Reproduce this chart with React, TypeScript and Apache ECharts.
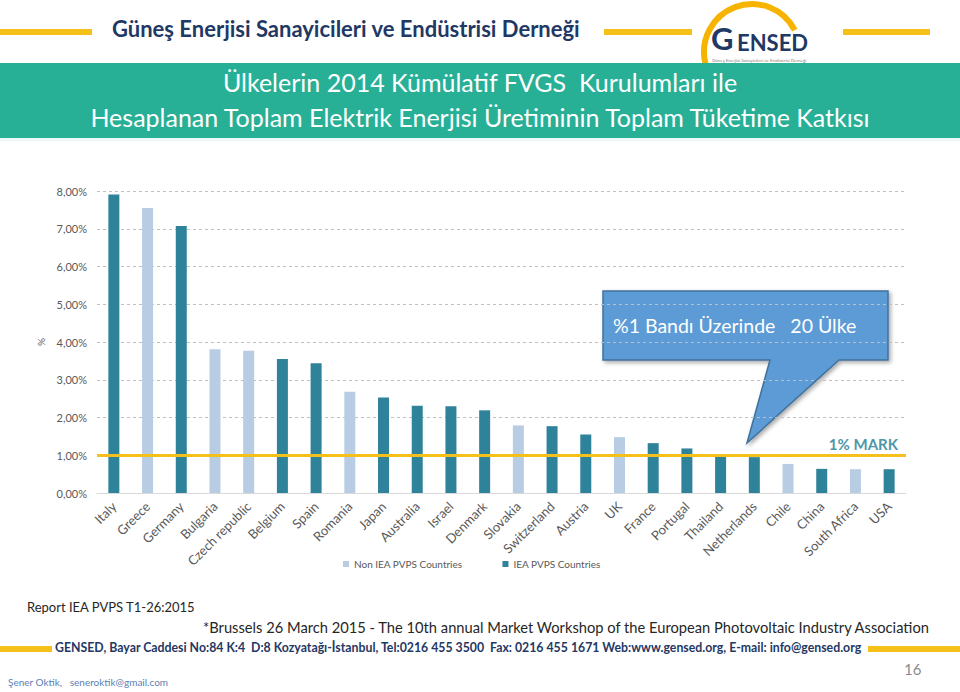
import React, { useEffect, useRef } from "react";
import * as echarts from "echarts";

const categories = ["Italy", "Greece", "Germany", "Bulgaria", "Czech republic", "Belgium", "Spain", "Romania", "Japan", "Australia", "Israel", "Denmark", "Slovakia", "Switzerland", "Austria", "UK", "France", "Portugal", "Thailand", "Netherlands", "Chile", "China", "South Africa", "USA"];
const values = [7.91, 7.55, 7.07, 3.81, 3.77, 3.55, 3.44, 2.68, 2.53, 2.31, 2.30, 2.19, 1.79, 1.77, 1.55, 1.48, 1.32, 1.18, 1.03, 0.95, 0.77, 0.64, 0.63, 0.63];
const ieaMember = [true, false, true, false, false, true, true, false, true, true, true, true, false, true, true, false, true, true, true, true, false, true, false, true];
const seriesNames = ["Non IEA PVPS Countries", "IEA PVPS Countries"];
const markValue = 1;
const markLabel = "1% MARK";
const yTicks = { min: 0, max: 8, interval: 1 };

const headerText = "Güneş Enerjisi Sanayicileri ve Endüstrisi Derneği";
const titleLines = ["Ülkelerin 2014 Kümülatif FVGS  Kurulumları ile", "Hesaplanan Toplam Elektrik Enerjisi Üretiminin Toplam Tüketime Katkısı"];
const calloutText = "%1 Bandı Üzerinde   20 Ülke";
const sourceText = "Report IEA PVPS T1-26:2015";
const noteText = "*Brussels 26 March 2015 - The 10th annual Market Workshop of the European Photovoltaic Industry Association";
const addressText = "GENSED, Bayar Caddesi No:84 K:4  D:8 Kozyatağı-İstanbul, Tel:0216 455 3500  Fax: 0216 455 1671 Web:www.gensed.org, E-mail: info@gensed.org";
const authorText = "Şener Oktik,   seneroktik@gmail.com";
const pageNo = "16";

const FONT = "Lato, 'Noto Sans', sans-serif";
const DARK = "#2e8299";
const LIGHT = "#b8cce4";
const YELLOW = "#f5c01a";
const NAVY = "#1f3864";

export default function App() {
  const ref = useRef<HTMLDivElement>(null);
  useEffect(() => {
    if (!ref.current) return;
    const chart = echarts.init(ref.current, null, { renderer: "svg" });
    const nonData = values.map((v, i) => (ieaMember[i] ? "-" : v));
    const ieaData = values.map((v, i) => (ieaMember[i] ? v : "-"));
    chart.setOption({
      animation: false,
      backgroundColor: "#ffffff",
      textStyle: { fontFamily: FONT },
      grid: { left: 97, right: 54, top: 191, height: 302 },
      legend: {
        data: seriesNames,
        top: 554,
        left: 338,
        itemWidth: 6,
        itemHeight: 6,
        itemGap: 40,
        icon: "rect",
        textStyle: { color: "#595959", fontSize: 10, fontFamily: FONT },
      },
      xAxis: {
        type: "category",
        data: categories,
        axisTick: { show: false },
        axisLine: { lineStyle: { color: "#d9d9d9" } },
        axisLabel: { rotate: 45, color: "#595959", fontSize: 13, margin: 11, interval: 0 },
      },
      yAxis: {
        type: "value",
        min: yTicks.min,
        max: yTicks.max,
        interval: yTicks.interval,
        name: "%",
        nameLocation: "middle",
        nameGap: 50,
        nameRotate: 90,
        nameTextStyle: { color: "#595959", fontSize: 10 },
        axisLabel: {
          color: "#595959",
          fontSize: 11,
          margin: 10,
          formatter: (v: number) => v.toFixed(2).replace(".", ",") + "%",
        },
        splitLine: { lineStyle: { color: "#bfbfbf", type: [3, 3] } },
      },
      series: [
        {
          name: seriesNames[0],
          type: "bar",
          stack: "all",
          barWidth: 11,
          itemStyle: { color: LIGHT },
          data: nonData,
        },
        {
          name: seriesNames[1],
          type: "bar",
          stack: "all",
          barWidth: 11,
          itemStyle: { color: DARK },
          data: ieaData,
          markLine: {
            silent: true,
            symbol: "none",
            lineStyle: { color: YELLOW, width: 3, type: "solid" },
            label: {
              show: true,
              position: "insideEndTop",
              formatter: markLabel,
              color: "#4f97a8",
              fontSize: 15,
              fontWeight: "bold",
              distance: [8, 4],
            },
            data: [{ yAxis: markValue }],
          },
        },
      ],
      graphic: [
        // header yellow bars
        { type: "rect", shape: { x: 0, y: 29, width: 92, height: 6 }, style: { fill: YELLOW } },
        { type: "rect", shape: { x: 604, y: 29, width: 88, height: 6 }, style: { fill: YELLOW } },
        { type: "rect", shape: { x: 843, y: 29, width: 87, height: 6 }, style: { fill: YELLOW } },
        {
          type: "text",
          left: 112,
          top: 17,
          style: { text: headerText, fill: NAVY, font: `bold 22px ${FONT}` },
        },
        // logo
        {
          type: "arc",
          shape: { cx: 752, cy: 52, r: 48, startAngle: Math.PI * 0.92, endAngle: Math.PI * 1.85 },
          style: { stroke: "#f6b400", lineWidth: 6, fill: "none" },
        },
        { type: "text", left: 711, top: 22, style: { text: "G", fill: NAVY, font: `bold 31px ${FONT}` } },
        { type: "text", left: 737, top: 31, style: { text: "ENSED", fill: NAVY, font: `bold 22px ${FONT}` } },
        { type: "text", left: 712, top: 58, style: { text: headerText, fill: "#7f7f7f", font: `4.5px ${FONT}` } },
        // title band
        { type: "rect", shape: { x: 0, y: 63, width: 960, height: 75 }, style: { fill: "#27b096" } },
        { type: "rect", shape: { x: 0, y: 138, width: 960, height: 3 }, style: { fill: "#eefaf8" } },
        {
          type: "text",
          x: 480,
          y: 82,
          style: { text: titleLines[0], fill: "#ffffff", font: `25px ${FONT}`, textAlign: "center", textVerticalAlign: "middle" },
        },
        {
          type: "text",
          x: 480,
          y: 117,
          style: { text: titleLines[1], fill: "#ffffff", font: `25px ${FONT}`, textAlign: "center", textVerticalAlign: "middle" },
        },
        // callout
        {
          type: "polygon",
          shape: {
            points: [[603, 291], [888, 291], [888, 360], [839, 360], [747, 443], [770, 360], [603, 360]],
          },
          style: { fill: "#5b9bd5", stroke: "#41719c", lineWidth: 1.5, shadowBlur: 4, shadowColor: "rgba(0,0,0,0.35)", shadowOffsetX: 2, shadowOffsetY: 2 },
        },
        {
          type: "text",
          left: 613,
          top: 315,
          style: { text: calloutText, fill: "#ffffff", font: `19.5px ${FONT}` },
        },
        // footer
        { type: "text", left: 27, top: 600, style: { text: sourceText, fill: "#262626", font: `13px ${FONT}` } },
        { type: "text", left: 203, top: 619, style: { text: noteText, fill: "#262626", font: `14.7px ${FONT}` } },
        { type: "rect", shape: { x: 0, y: 646, width: 52, height: 6 }, style: { fill: YELLOW } },
        { type: "rect", shape: { x: 868, y: 646, width: 92, height: 6 }, style: { fill: YELLOW } },
        { type: "text", left: 55, top: 641, style: { text: addressText, fill: NAVY, font: `bold 12.3px ${FONT}` } },
        { type: "text", left: 8, top: 677, style: { text: authorText, fill: "#5b7fb5", font: `10px ${FONT}` } },
        { type: "text", left: 904, top: 661, style: { text: pageNo, fill: "#8c8c8c", font: `15px ${FONT}` } },
      ],
    });
    return () => chart.dispose();
  }, []);
  return <div ref={ref} style={{ position: "fixed", left: 0, top: 0, width: 960, height: 692 }} />;
}
